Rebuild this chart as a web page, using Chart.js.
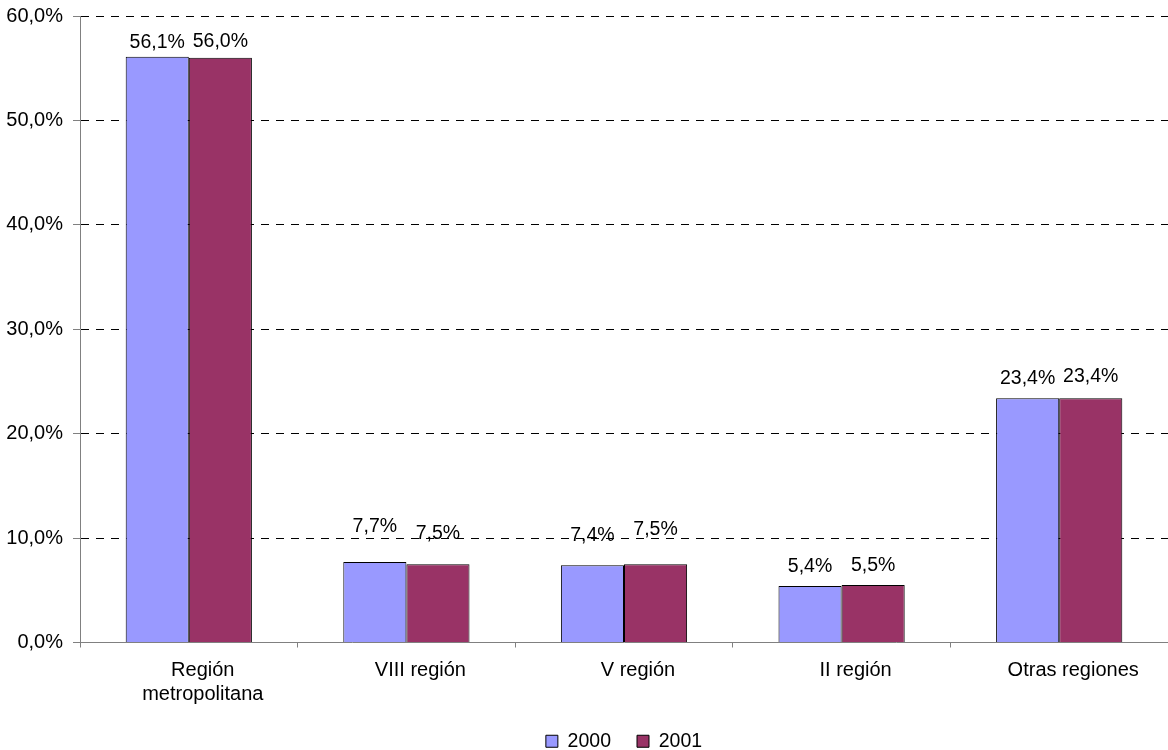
<!DOCTYPE html>
<html lang="es">
<head>
<meta charset="utf-8">
<script src="https://cdn.jsdelivr.net/npm/chart.js@4"></script>
<style>
  html, body { margin: 0; padding: 0; background: #fff; }
  #contenedor { width: 1168px; height: 750px; }
</style>
</head>
<body>
<div id="contenedor"><canvas id="grafico-regiones"></canvas></div>
<script>
const regiones = [["Región", "metropolitana"], "VIII región", "V región", "II región", "Otras regiones"];
const anios = ["2000", "2001"];
const valores2000 = [56.1, 7.7, 7.4, 5.4, 23.4];
const valores2001 = [56.0, 7.5, 7.5, 5.5, 23.4];

const FUENTE = '"Liberation Sans", Arial, sans-serif';
const GRIS_EJE = "#808080";

const formatoPct = (v) => v.toFixed(1).replace(".", ",") + "%";

// etiquetas sobre cada barra (en el original algunas quedan algo más arriba)
const etiquetasBarras = {
  id: "etiquetasBarras",
  afterDatasetsDraw(chart, args, opts) {
    const ctx = chart.ctx;
    ctx.save();
    ctx.font = "19.5px " + FUENTE;
    ctx.fillStyle = "#000";
    ctx.textAlign = "center";
    ctx.textBaseline = "middle";
    chart.data.datasets.forEach((ds, i) => {
      chart.getDatasetMeta(i).data.forEach((barra, j) => {
        const subir = opts.subir[i][j];
        ctx.fillText(formatoPct(ds.data[j]), barra.x, barra.y - subir);
      });
    });
    ctx.restore();
  },
};

const ctx = document.getElementById("grafico-regiones").getContext("2d");
new Chart(ctx, {
  type: "bar",
  data: {
    labels: regiones,
    datasets: [
      {
        label: anios[0],
        data: valores2000,
        backgroundColor: "#9999FF",
        borderColor: "#000",
        borderWidth: 1,
      },
      {
        label: anios[1],
        data: valores2001,
        backgroundColor: "#993366",
        borderColor: "#000",
        borderWidth: 1,
      },
    ],
  },
  options: {
    responsive: true,
    maintainAspectRatio: false,
    animation: false,
    datasets: {
      bar: { categoryPercentage: 0.58, barPercentage: 1 },
    },
    layout: { padding: { top: 16, right: 0, left: 0, bottom: -11 } },
    plugins: {
      legend: {
        position: "bottom",
        fullSize: false,
        labels: {
          font: { family: FUENTE, size: 19.5 },
          color: "#000",
          boxWidth: 12,
          boxHeight: 12,
          padding: 26,
        },
      },
      tooltip: { enabled: false },
      etiquetasBarras: {
        subir: [
          [14, 35, 30, 19, 20],
          [16, 31, 35, 19, 22],
        ],
      },
    },
    scales: {
      x: {
        offset: true,
        grid: {
          offset: true,
          drawOnChartArea: false,
          drawTicks: true,
          tickLength: 5,
          tickColor: GRIS_EJE,
        },
        border: { color: GRIS_EJE, width: 1 },
        ticks: {
          font: { family: FUENTE, size: 20 },
          color: "#000",
          padding: 11,
          labelOffset: 14,
          maxRotation: 0,
        },
        afterFit: (escala) => {
          escala.height = 63;
          escala.paddingLeft = 0;
          escala.paddingRight = 0;
        },
      },
      y: {
        min: 0,
        max: 60,
        grid: {
          color: (c) => (c.tick && c.tick.value === 0 ? "rgba(0,0,0,0)" : "#000"),
          tickColor: GRIS_EJE,
          tickLength: 7,
          lineWidth: 1,
        },
        border: { color: GRIS_EJE, width: 1, dash: [8, 7] },
        ticks: {
          stepSize: 10,
          font: { family: FUENTE, size: 20 },
          color: "#000",
          padding: 10,
          callback: (v) => formatoPct(v),
        },
        afterFit: (escala) => {
          escala.width = 80;
          escala.paddingTop = 0;
          escala.paddingBottom = 0;
        },
      },
    },
  },
  plugins: [etiquetasBarras],
});
</script>
</body>
</html>
